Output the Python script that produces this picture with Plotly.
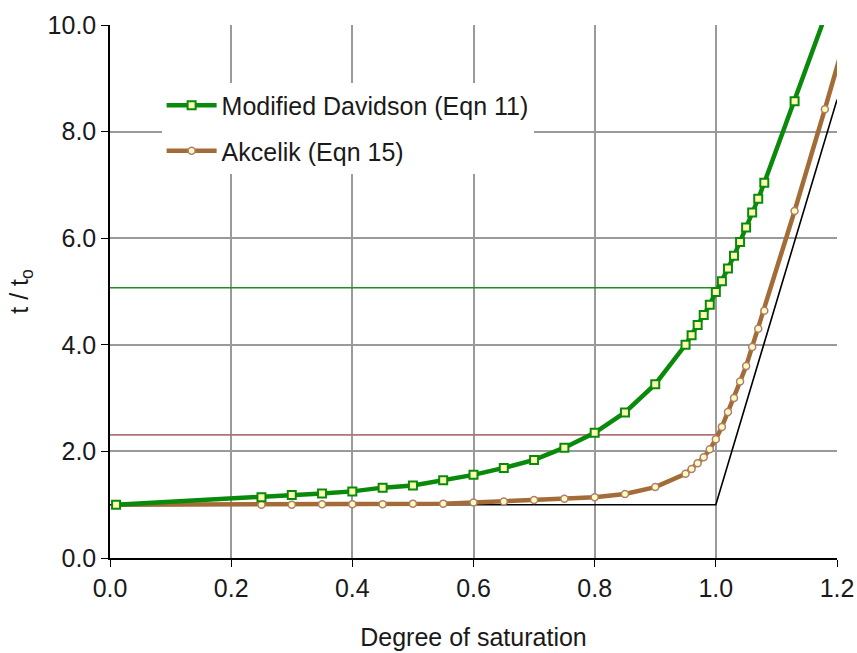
import plotly.graph_objects as go

# Degree of saturation values
x_pts = [0.01, 0.25, 0.30, 0.35, 0.40, 0.45, 0.50, 0.55, 0.60, 0.65, 0.70, 0.75,
         0.80, 0.85, 0.90, 0.95, 0.96, 0.97, 0.98, 0.99, 1.00, 1.01, 1.02, 1.03,
         1.04, 1.05, 1.06, 1.07, 1.08, 1.13, 1.18, 1.23]

davidson = [1.00, 1.14, 1.18, 1.21, 1.25, 1.32, 1.36, 1.46, 1.56, 1.69, 1.84, 2.07,
            2.35, 2.73, 3.26, 4.00, 4.18, 4.37, 4.56, 4.75, 4.99, 5.19, 5.43, 5.67,
            5.93, 6.20, 6.48, 6.74, 7.04, 8.57, 10.15, 11.9]

akcelik = [1.00, 1.00, 1.00, 1.01, 1.01, 1.01, 1.02, 1.02, 1.04, 1.06, 1.09, 1.11,
           1.14, 1.20, 1.33, 1.58, 1.67, 1.78, 1.89, 2.04, 2.23, 2.46, 2.74, 3.00,
           3.31, 3.60, 3.96, 4.30, 4.64, 6.51, 8.42, 10.4]

# Reference (deterministic) line
ref_x = [0.0, 1.0, 1.2]
ref_y = [1.0, 1.0, 8.6]

# Horizontal guide lines
guide_x = [0.0, 1.0]
guide_davidson = [5.07, 5.07]
guide_akcelik = [2.31, 2.31]

x_ticks = [0.0, 0.2, 0.4, 0.6, 0.8, 1.0, 1.2]
x_tick_text = ["0.0", "0.2", "0.4", "0.6", "0.8", "1.0", "1.2"]
y_ticks = [0, 2, 4, 6, 8, 10]
y_tick_text = ["0.0", "2.0", "4.0", "6.0", "8.0", "10.0"]

GREEN = "#0a8a0a"
BROWN = "#a36b35"
FILL = "#ffffb4"
FONT = "Liberation Sans, Arial, sans-serif"
FS = 25

fig = go.Figure()

fig.add_trace(go.Scatter(x=guide_x, y=guide_davidson, mode="lines",
                         line=dict(color="#1f8f1f", width=1.6),
                         showlegend=False, hoverinfo="skip"))
fig.add_trace(go.Scatter(x=guide_x, y=guide_akcelik, mode="lines",
                         line=dict(color="#b07474", width=1.6),
                         showlegend=False, hoverinfo="skip"))
fig.add_trace(go.Scatter(x=ref_x, y=ref_y, mode="lines",
                         line=dict(color="black", width=1.6),
                         showlegend=False, hoverinfo="skip"))

fig.add_trace(go.Scatter(
    x=x_pts, y=akcelik, mode="lines+markers", name="Akcelik (Eqn 15)",
    line=dict(color=BROWN, width=4.5),
    marker=dict(symbol="circle", size=7, color=FILL,
                line=dict(color="#b07c78", width=1.5)),
    legendgroup="b", legendrank=2))

fig.add_trace(go.Scatter(
    x=x_pts, y=davidson, mode="lines+markers", name="Modified Davidson (Eqn 11)",
    line=dict(color=GREEN, width=4.5),
    marker=dict(symbol="square", size=8, color=FILL,
                line=dict(color=GREEN, width=2)),
    legendgroup="a", legendrank=1))

fig.update_layout(
    width=857, height=653,
    margin=dict(l=110, r=20, t=25, b=95),
    paper_bgcolor="white", plot_bgcolor="white",
    font=dict(family=FONT, size=FS, color="#1a1a1a"),
    showlegend=True,
    legend=dict(x=0.071, y=0.892, xanchor="left", yanchor="top",
                bgcolor="white", borderwidth=0,
                font=dict(family=FONT, size=FS, color="#1a1a1a"),
                traceorder="grouped", tracegroupgap=10, itemwidth=50),
    xaxis=dict(range=[0, 1.2], tickvals=x_ticks, ticktext=x_tick_text,
               automargin=False,
               showgrid=True, gridcolor="#9a9a9a", gridwidth=2,
               showline=True, linecolor="black", linewidth=1.5,
               ticks="outside", ticklen=7, tickcolor="black", tickwidth=1.2,
               zeroline=False,
               title=dict(text="Degree of saturation", standoff=28,
                          font=dict(family=FONT, size=FS))),
    yaxis=dict(range=[0, 10], tickvals=y_ticks, ticktext=y_tick_text,
               automargin=False,
               showgrid=True, gridcolor="#9a9a9a", gridwidth=2,
               showline=True, linecolor="black", linewidth=1.5,
               ticks="outside", ticklen=7, tickcolor="black", tickwidth=1.2,
               zeroline=False,
               title=dict(text="t / t<sub>o</sub>", standoff=12,
                          font=dict(family=FONT, size=FS))),
)

fig.write_html(
    "out.html",
    config={"displayModeBar": False},
    post_script="document.body.style.margin='0px';document.body.style.overflow='hidden';",
)
